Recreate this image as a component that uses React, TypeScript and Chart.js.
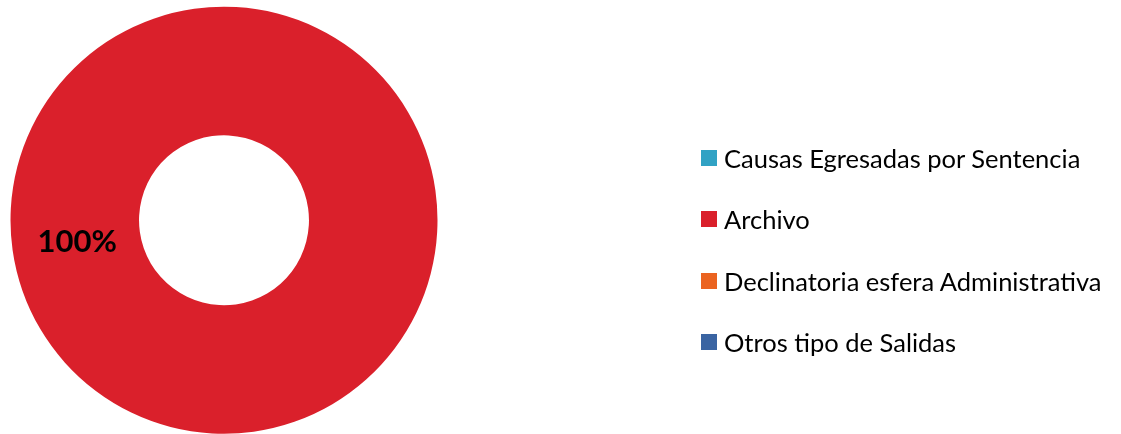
import React, { useEffect, useRef } from "react";
import { Chart, registerables } from "chart.js";

Chart.register(...registerables);

const categories = [
  "Causas Egresadas por Sentencia",
  "Archivo",
  "Declinatoria esfera Administrativa",
  "Otros tipo de Salidas",
];
const values = [0, 100, 0, 0];
const colors = ["#31A2C4", "#DA202B", "#EB6320", "#3A64A2"];

const labelPlugin = {
  id: "pctLabels",
  afterDatasetsDraw(chart: any) {
    const ctx = chart.ctx;
    const meta = chart.getDatasetMeta(0);
    const data = chart.data.datasets[0].data as number[];
    const total = data.reduce((a, b) => a + b, 0);
    meta.data.forEach((arc: any, i: number) => {
      const v = data[i];
      if (!v) return;
      const p = arc.getCenterPoint();
      ctx.save();
      ctx.font = "bold 31px Lato";
      ctx.fillStyle = "#000";
      ctx.textAlign = "center";
      ctx.textBaseline = "middle";
      ctx.fillText(Math.round((v / total) * 100) + "%", p.x + 1, p.y + 1);
      ctx.restore();
    });
  },
};

export default function App() {
  const ref = useRef<HTMLCanvasElement>(null);
  useEffect(() => {
    if (!ref.current) return;
    const chart = new Chart(ref.current, {
      type: "doughnut",
      data: {
        labels: categories,
        datasets: [
          {
            data: values,
            backgroundColor: colors,
            borderWidth: 0,
          },
        ],
      },
      options: {
        animation: false,
        responsive: true,
        maintainAspectRatio: false,
        cutout: "39.8%",
        rotation: 82,
        layout: { padding: { left: 10.5, top: 6.5, bottom: 0, right: 683.5 } },
        plugins: {
          legend: { display: false },
          tooltip: { enabled: false },
        },
      },
      plugins: [labelPlugin],
    });
    return () => chart.destroy();
  }, []);

  const rowTops = [0, 1, 2, 3];
  return (
    <div style={{ position: "fixed", left: 0, top: 0, width: 1121, height: 434, background: "#fff" }}>
      <div style={{ position: "absolute", left: 0, top: 0, width: 1121, height: 434 }}>
        <canvas ref={ref} />
      </div>
      {categories.map((c, i) => (
        <div
          key={c}
          style={{
            position: "absolute",
            left: 701,
            top: 158 + rowTops[i] * 61.3 - 15,
            height: 30,
            display: "flex",
            alignItems: "center",
            fontFamily: "Lato, sans-serif",
            fontSize: 25.5,
            color: "#000",
            whiteSpace: "nowrap",
          }}
        >
          <span style={{ display: "inline-block", width: 16, height: 16, background: colors[i], marginRight: 7 }} />
          <span>{c}</span>
        </div>
      ))}
    </div>
  );
}
